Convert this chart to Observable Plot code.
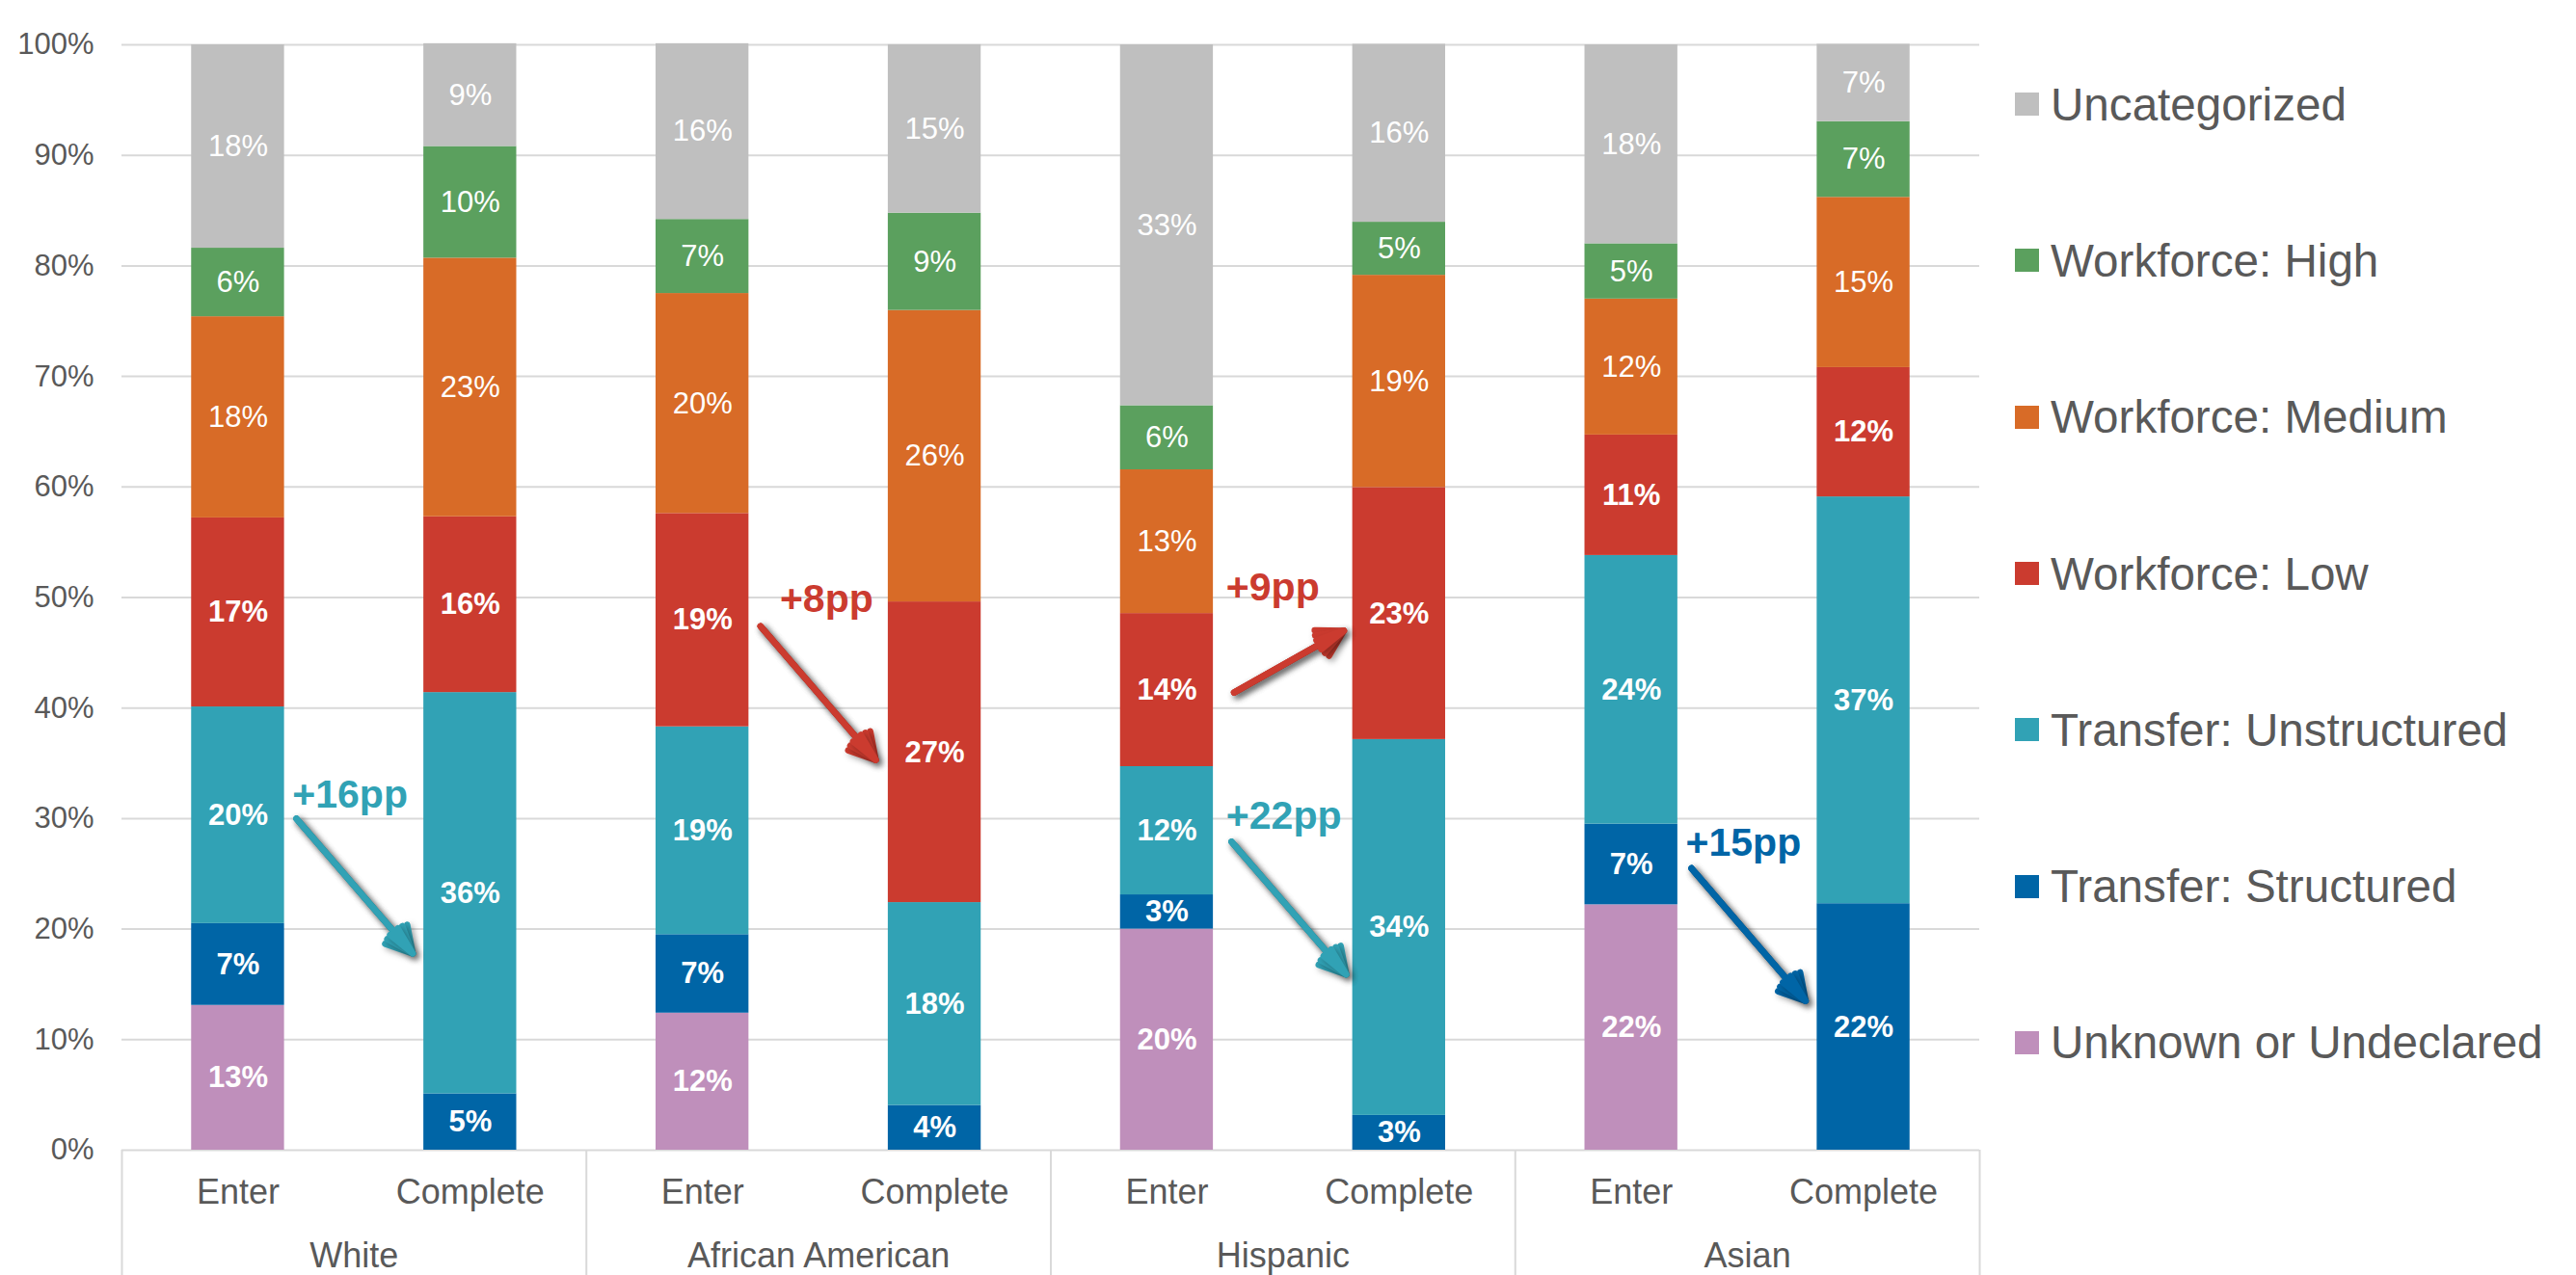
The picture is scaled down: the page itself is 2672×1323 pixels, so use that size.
<!DOCTYPE html>
<html><head><meta charset="utf-8">
<script src="https://cdn.jsdelivr.net/npm/d3@7"></script>
<script src="https://cdn.jsdelivr.net/npm/@observablehq/plot@0.6"></script>
<style>
body{margin:0;background:#fff;}
#wrap{position:relative;width:2672px;height:1323px;overflow:hidden;font-family:"Liberation Sans",Arial,sans-serif;background:#fff;}
#chart{position:absolute;left:0;top:0;}
#legend{position:absolute;left:2090px;top:27px;}
.item{display:flex;align-items:center;height:162.3px;font-size:47.6px;color:#595959;white-space:nowrap;}
.sw{width:25px;height:24px;margin-right:12px;flex:none;}
</style></head><body>
<div id="wrap"><div id="chart"></div><div id="legend"></div></div>
<script>
// ---- data ----
const groups = ["White", "African American", "Hispanic", "Asian"];
const stages = ["Enter", "Complete"];
// stacking order bottom -> top
const categories = ["Unknown or Undeclared", "Transfer: Structured", "Transfer: Unstructured", "Workforce: Low", "Workforce: Medium", "Workforce: High", "Uncategorized"];
const colors = ["#bf8fbb", "#0065a6", "#31a2b5", "#cb3b2f", "#d86b27", "#5ba05e", "#bfbfbf"];
const boldCategories = ["Unknown or Undeclared", "Transfer: Structured", "Transfer: Unstructured", "Workforce: Low"];
// bars: White Enter, White Complete, AfAm Enter, AfAm Complete, Hisp Enter, Hisp Complete, Asian Enter, Asian Complete
const unknownOrUndeclared  = [0.131, 0,     0.124, 0,      0.200,  0,      0.222, 0];
const transferStructured   = [0.074, 0.051, 0.071, 0.0405, 0.031,  0.0315, 0.073, 0.223];
const transferUnstructured = [0.196, 0.363, 0.188, 0.1835, 0.116,  0.340,  0.243, 0.368];
const workforceLow         = [0.171, 0.159, 0.193, 0.272,  0.1385, 0.228,  0.109, 0.117];
const workforceMedium      = [0.182, 0.234, 0.199, 0.2637, 0.130,  0.192,  0.123, 0.154];
const workforceHigh        = [0.062, 0.101, 0.067, 0.088,  0.058,  0.048,  0.050, 0.0685];
const uncategorized        = [0.184, 0.093, 0.159, 0.1524, 0.3265, 0.161,  0.180, 0.070];
const yTicks = [0, 0.1, 0.2, 0.3, 0.4, 0.5, 0.6, 0.7, 0.8, 0.9, 1];
// change annotations (x in bar-index units, y in share units)
const annTexts  = ["+16pp", "+8pp", "+9pp", "+22pp", "+15pp"];
const annColors = ["#31a2b5", "#cb3b2f", "#cb3b2f", "#31a2b5", "#0065a6"];
const annTextX  = [0.234, 2.333, 4.255, 4.255, 6.234];
const annTextY  = [0.321, 0.498, 0.509, 0.3025, 0.278];
const annFromX  = [0.251, 2.250, 4.289, 4.278, 6.259];
const annFromY  = [0.300, 0.474, 0.414, 0.279, 0.255];
const annToX    = [0.752, 2.746, 4.762, 4.772, 6.750];
const annToY    = [0.178, 0.353, 0.470, 0.159, 0.135];

// ---- build table ----
const series = [unknownOrUndeclared, transferStructured, transferUnstructured, workforceLow, workforceMedium, workforceHigh, uncategorized];
const rows = [];
for (let b = 0; b < 8; b++) {
  let acc = 0;
  series.forEach((s, k) => {
    const v = s[b];
    rows.push({pos: b, group: groups[Math.floor(b / 2)], stage: stages[b % 2], cat: categories[k], value: v, y1: acc, y2: acc + v});
    acc += v;
  });
}
const annotations = annTexts.map((t, i) => ({text: t, color: annColors[i], tx: annTextX[i], ty: annTextY[i], x1: annFromX[i], y1: annFromY[i], x2: annToX[i], y2: annToY[i]}));
const barPositions = d3.range(8);
const groupCenters = groups.map((g, i) => 2 * i + 0.5);
const groupEdges = d3.range(groups.length + 1).map(i => 2 * i - 0.5);
const halfBar = 0.2;
const pct = v => Math.round(v * 100) + "%";
const labelRows = rows.filter(d => d.value > 0);

const plot = Plot.plot({
  width: 2672, height: 1323,
  marginLeft: 126, marginRight: 619, marginTop: 46, marginBottom: 130,
  style: {fontFamily: "'Liberation Sans', Arial, sans-serif", color: "#595959", background: "white"},
  x: {domain: [-0.5, 7.5], label: null},
  y: {domain: [0, 1], label: null},
  color: {domain: categories, range: colors},
  marks: [
    Plot.gridY({ticks: yTicks, stroke: "#d9d9d9", strokeOpacity: 1, strokeWidth: 2}),
    Plot.axisY({ticks: yTicks, tickFormat: d3.format(".0%"), tickSize: 0, tickPadding: 29, fontSize: 31, label: null}),
    Plot.axisX({ticks: barPositions, tickFormat: i => stages[i % 2], tickSize: 0, tickPadding: 30, fontSize: 36, label: null}),
    Plot.axisX({ticks: groupCenters, tickFormat: v => groups[(v - 0.5) / 2], tickSize: 0, tickPadding: 96, fontSize: 36, label: null}),
    Plot.axisX({ticks: groupEdges, tickFormat: () => "", tickSize: 135, stroke: "#d9d9d9", strokeWidth: 2, label: null}),
    Plot.rect(rows, {x1: d => d.pos - halfBar, x2: d => d.pos + halfBar, y1: "y1", y2: "y2", fill: "cat"}),
    Plot.text(labelRows.filter(d => !boldCategories.includes(d.cat)), {x: "pos", y: d => (d.y1 + d.y2) / 2, text: d => pct(d.value), fill: "white", fontSize: 31}),
    Plot.text(labelRows.filter(d => boldCategories.includes(d.cat)), {x: "pos", y: d => (d.y1 + d.y2) / 2, text: d => pct(d.value), fill: "white", fontSize: 31, fontWeight: "bold"}),
    ...[60, 40, 20].map(a => Plot.arrow(annotations, {x1: "x1", y1: "y1", x2: "x2", y2: "y2", stroke: "color", strokeWidth: 6.5, headAngle: a, headLength: 7})),
    Plot.text(annotations, {x: "tx", y: "ty", text: "text", fill: "color", fontSize: 41, fontWeight: "bold", textAnchor: "start"})
  ]
});
document.getElementById("chart").appendChild(plot);
plot.querySelectorAll('g[aria-label="arrow"]').forEach(g => g.style.filter = "drop-shadow(3px 3px 3px rgba(0,0,0,0.3))");

// legend (top -> bottom)
const legend = d3.select("#legend");
categories.slice().reverse().forEach(c => {
  const item = legend.append("div").attr("class", "item");
  item.append("div").attr("class", "sw").style("background", colors[categories.indexOf(c)]);
  item.append("span").text(c);
});
</script>
</body></html>
